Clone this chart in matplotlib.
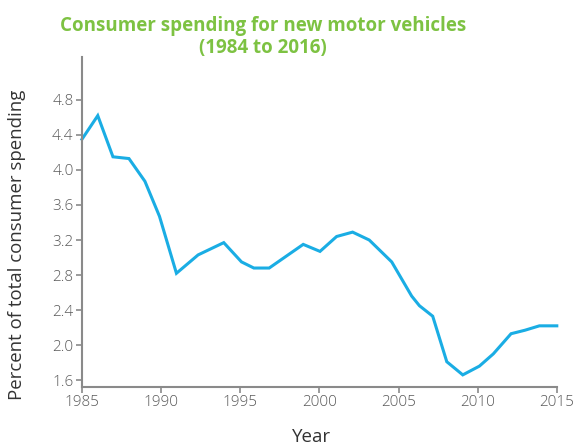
import matplotlib
matplotlib.use("Agg")
import matplotlib.pyplot as plt

years = [1985.0, 1986.0, 1986.96, 1987.97, 1988.98, 1989.9, 1990.97, 1992.34,
         1993.96, 1995.08, 1995.86, 1996.83, 1998.98, 2000.04, 2001.09, 2002.1,
         2003.15, 2004.57, 2005.83, 2006.32, 2007.16, 2008.05, 2009.06, 2010.11,
         2010.99, 2012.11, 2012.99, 2013.9, 2015.0]
share = [4.35, 4.62, 4.15, 4.13, 3.87, 3.47, 2.82, 3.03,
         3.17, 2.95, 2.88, 2.88, 3.15, 3.07, 3.24, 3.29,
         3.20, 2.95, 2.56, 2.45, 2.33, 1.81, 1.66, 1.76,
         1.90, 2.13, 2.17, 2.22, 2.22]
xticks = [1985, 1990, 1995, 2000, 2005, 2010, 2015]
yticks = [1.6, 2.0, 2.4, 2.8, 3.2, 3.6, 4.0, 4.4, 4.8]

plt.rcParams['font.family'] = ['Open Sans', 'DejaVu Sans']

fig = plt.figure(figsize=(5.77, 4.45), dpi=100)
ax = fig.add_axes([0.142, 0.131, 0.823, 0.741])

ax.plot(years, share, color='#1AADE4', lw=2.2, solid_joinstyle='miter', clip_on=False)

ax.set_xlim(1985, 2015)
ax.set_ylim(1.525, 5.29)
ax.set_xticks(xticks)
ax.set_yticks(yticks)
ax.set_yticklabels([f"{v:.1f}" for v in yticks])

for s in ['top', 'right']:
    ax.spines[s].set_visible(False)
for s in ['left', 'bottom']:
    ax.spines[s].set_color('#8a8a8a')
    ax.spines[s].set_linewidth(1.5)
ax.tick_params(colors='#8a8a8a', labelcolor='#5a5a5a', labelsize=11, length=4, width=1.2, pad=2)
for lab in ax.get_xticklabels() + ax.get_yticklabels():
    lab.set_fontweight('light')

ax.set_xlabel('Year', fontsize=13.5, color='#333333')
ax.xaxis.set_label_coords(0.484, -0.125)
ax.set_ylabel('Percent of total consumer spending', fontsize=13.4, color='#333333')
ax.yaxis.set_label_coords(-0.118, 0.43)

fig.text(0.456, 0.965, 'Consumer spending for new motor vehicles\n(1984 to 2016)',
         ha='center', va='top', fontsize=13.5, fontweight='bold', color='#7DC242',
         linespacing=1.15)

fig.savefig('out.png', dpi=100)
